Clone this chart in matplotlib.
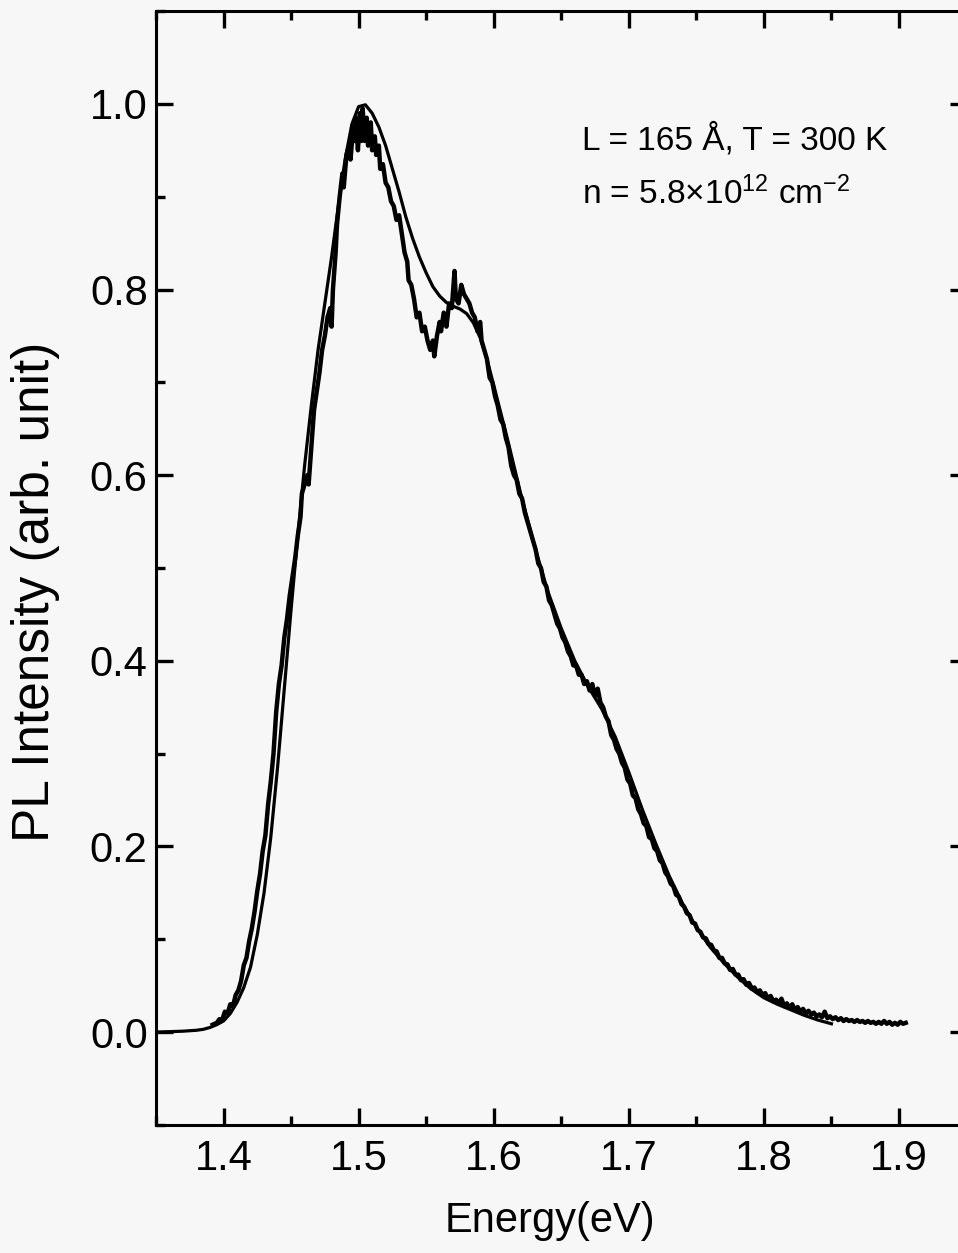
import numpy as np
import matplotlib.pyplot as plt
from matplotlib.ticker import MultipleLocator

plt.rcParams['font.family'] = ['Liberation Sans', 'DejaVu Sans']
plt.rcParams['mathtext.fontset'] = 'custom'
plt.rcParams['mathtext.rm'] = 'Liberation Sans'
plt.rcParams['mathtext.it'] = 'Liberation Sans'

# measured PL spectrum (noisy trace)
exp_energy = [1.392, 1.395, 1.397, 1.399, 1.401, 1.403, 1.405, 1.407, 1.409, 1.411,
              1.413, 1.415, 1.417, 1.419, 1.421, 1.423, 1.425, 1.427, 1.429, 1.431,
              1.433, 1.435, 1.437, 1.439, 1.441, 1.443, 1.445, 1.447, 1.449, 1.451,
              1.453, 1.455, 1.457, 1.458, 1.460, 1.462, 1.463, 1.465, 1.467, 1.469,
              1.471, 1.473, 1.475, 1.477, 1.479, 1.480, 1.481, 1.483, 1.484, 1.486,
              1.488, 1.489, 1.491, 1.493, 1.494, 1.496, 1.497, 1.498, 1.4995, 1.501,
              1.502, 1.503, 1.5045, 1.506, 1.507, 1.509, 1.510, 1.512, 1.513, 1.515,
              1.516, 1.518, 1.520, 1.522, 1.524, 1.526, 1.528, 1.530, 1.532, 1.534,
              1.536, 1.537, 1.539, 1.541, 1.543, 1.545, 1.547, 1.549, 1.551, 1.553,
              1.555, 1.556, 1.558, 1.560, 1.561, 1.563, 1.565, 1.567, 1.569, 1.571,
              1.572, 1.574, 1.576, 1.578, 1.580, 1.582, 1.584, 1.586, 1.588, 1.590,
              1.591, 1.593, 1.595, 1.597, 1.599, 1.601, 1.603, 1.605, 1.607, 1.609,
              1.611, 1.613, 1.615, 1.617, 1.619, 1.621, 1.623, 1.625, 1.627, 1.629,
              1.631, 1.633, 1.635, 1.637, 1.639, 1.641, 1.643, 1.645, 1.647, 1.649,
              1.651, 1.653, 1.655, 1.657, 1.659, 1.661, 1.663, 1.665, 1.667, 1.669,
              1.671, 1.673, 1.675, 1.677, 1.679, 1.681, 1.683, 1.685, 1.687, 1.689,
              1.691, 1.693, 1.695, 1.697, 1.699, 1.701, 1.703, 1.705, 1.707, 1.709,
              1.711, 1.713, 1.715, 1.717, 1.719, 1.721, 1.723, 1.725, 1.727, 1.729,
              1.731, 1.733, 1.735, 1.737, 1.739, 1.741, 1.743, 1.745, 1.747, 1.749,
              1.751, 1.753, 1.755, 1.757, 1.759, 1.761, 1.763, 1.765, 1.767, 1.769,
              1.771, 1.773, 1.775, 1.777, 1.779, 1.781, 1.783, 1.785, 1.787, 1.789,
              1.791, 1.793, 1.795, 1.797, 1.799, 1.801, 1.803, 1.805, 1.807, 1.809,
              1.811, 1.813, 1.815, 1.817, 1.819, 1.821, 1.823, 1.825, 1.827, 1.829,
              1.831, 1.833, 1.835, 1.837, 1.839, 1.841, 1.843, 1.845, 1.847, 1.849,
              1.851, 1.853, 1.855, 1.857, 1.859, 1.861, 1.863, 1.865, 1.867, 1.869,
              1.871, 1.873, 1.875, 1.877, 1.879, 1.881, 1.883, 1.885, 1.887, 1.889,
              1.891, 1.893, 1.895, 1.897, 1.899, 1.901, 1.903, 1.905]
exp_pl = [0.008, 0.010, 0.014, 0.013, 0.022, 0.020, 0.030, 0.028, 0.040, 0.045,
          0.055, 0.072, 0.080, 0.098, 0.112, 0.130, 0.152, 0.170, 0.195, 0.212,
          0.245, 0.270, 0.300, 0.345, 0.375, 0.395, 0.425, 0.445, 0.470, 0.490,
          0.510, 0.535, 0.555, 0.580, 0.590, 0.600, 0.590, 0.630, 0.670, 0.690,
          0.710, 0.735, 0.750, 0.770, 0.780, 0.760, 0.800, 0.840, 0.870, 0.900,
          0.925, 0.910, 0.945, 0.955, 0.940, 0.975, 0.960, 0.985, 0.950, 0.990,
          0.960, 0.995, 0.960, 0.985, 0.955, 0.980, 0.950, 0.965, 0.945, 0.955,
          0.930, 0.935, 0.915, 0.910, 0.895, 0.890, 0.875, 0.880, 0.860, 0.840,
          0.830, 0.810, 0.805, 0.790, 0.770, 0.775, 0.755, 0.760, 0.745, 0.735,
          0.745, 0.728, 0.750, 0.765, 0.755, 0.775, 0.760, 0.785, 0.780, 0.820,
          0.790, 0.785, 0.805, 0.795, 0.790, 0.785, 0.775, 0.770, 0.755, 0.765,
          0.745, 0.735, 0.725, 0.705, 0.700, 0.685, 0.675, 0.660, 0.655, 0.640,
          0.630, 0.610, 0.600, 0.595, 0.580, 0.575, 0.560, 0.550, 0.540, 0.530,
          0.520, 0.505, 0.500, 0.485, 0.480, 0.465, 0.460, 0.450, 0.440, 0.435,
          0.425, 0.420, 0.410, 0.405, 0.395, 0.395, 0.385, 0.385, 0.375, 0.378,
          0.368, 0.375, 0.362, 0.370, 0.355, 0.350, 0.340, 0.335, 0.320, 0.315,
          0.305, 0.300, 0.290, 0.285, 0.272, 0.268, 0.255, 0.252, 0.240, 0.235,
          0.225, 0.222, 0.210, 0.208, 0.198, 0.195, 0.185, 0.182, 0.172, 0.168,
          0.160, 0.157, 0.148, 0.146, 0.138, 0.135, 0.128, 0.126, 0.118, 0.117,
          0.110, 0.108, 0.102, 0.101, 0.095, 0.094, 0.088, 0.087, 0.080, 0.080,
          0.074, 0.073, 0.067, 0.068, 0.062, 0.062, 0.056, 0.057, 0.051, 0.053,
          0.047, 0.048, 0.043, 0.045, 0.040, 0.042, 0.036, 0.039, 0.033, 0.035,
          0.031, 0.036, 0.028, 0.031, 0.026, 0.030, 0.024, 0.027, 0.022, 0.025,
          0.020, 0.023, 0.019, 0.021, 0.017, 0.019, 0.016, 0.022, 0.015, 0.017,
          0.014, 0.016, 0.013, 0.015, 0.012, 0.014, 0.012, 0.013, 0.011, 0.013,
          0.011, 0.012, 0.010, 0.012, 0.010, 0.011, 0.009, 0.011, 0.009, 0.012,
          0.009, 0.011, 0.008, 0.010, 0.008, 0.011, 0.009, 0.010]

# calculated spectrum (smooth fit)
fit_energy = [1.35, 1.36, 1.37, 1.38, 1.385, 1.39, 1.395, 1.40, 1.405, 1.41,
              1.415, 1.42, 1.425, 1.43, 1.435, 1.44, 1.445, 1.45, 1.455, 1.46,
              1.465, 1.47, 1.475, 1.48, 1.485, 1.49, 1.495, 1.50, 1.505, 1.51,
              1.515, 1.52, 1.525, 1.53, 1.535, 1.54, 1.545, 1.55, 1.555, 1.56,
              1.565, 1.57, 1.575, 1.58, 1.585, 1.59, 1.595, 1.60, 1.61, 1.62,
              1.63, 1.64, 1.65, 1.66, 1.67, 1.68, 1.69, 1.70, 1.71, 1.72,
              1.73, 1.74, 1.75, 1.76, 1.77, 1.78, 1.79, 1.80, 1.81, 1.82,
              1.83, 1.84, 1.85]
fit_pl = [0.0, 0.0005, 0.001, 0.002, 0.003, 0.005, 0.008, 0.012, 0.020, 0.032,
          0.048, 0.070, 0.105, 0.150, 0.210, 0.285, 0.370, 0.455, 0.535, 0.610,
          0.675, 0.735, 0.785, 0.835, 0.890, 0.940, 0.978, 0.997, 0.999, 0.990,
          0.975, 0.955, 0.930, 0.905, 0.878, 0.855, 0.835, 0.818, 0.803, 0.793,
          0.786, 0.782, 0.779, 0.774, 0.764, 0.748, 0.725, 0.697, 0.640, 0.580,
          0.525, 0.475, 0.435, 0.400, 0.372, 0.348, 0.318, 0.280, 0.240, 0.203,
          0.168, 0.138, 0.113, 0.092, 0.075, 0.060, 0.047, 0.037, 0.030, 0.024,
          0.018, 0.013, 0.009]

bg = '#f7f7f7'
fig = plt.figure(figsize=(9.58, 12.53), dpi=100, facecolor=bg)
# right spine sits just outside the picture, as in the scan
ax = fig.add_axes([0.1628, 0.1022, 0.8461, 0.889], facecolor=bg)

ax.plot(exp_energy, exp_pl, color='black', lw=3.2)
ax.plot(fit_energy, fit_pl, color='black', lw=2.3)

ax.set_xlim(1.35, 1.95)
ax.set_ylim(-0.1, 1.1)
ax.xaxis.set_major_locator(MultipleLocator(0.1))
ax.xaxis.set_minor_locator(MultipleLocator(0.05))
ax.yaxis.set_major_locator(MultipleLocator(0.2))
ax.yaxis.set_minor_locator(MultipleLocator(0.1))
ax.set_xticks([1.4, 1.5, 1.6, 1.7, 1.8, 1.9])
ax.set_xticklabels(['1.4', '1.5', '1.6', '1.7', '1.8', '1.9'])
ax.set_yticks([0.0, 0.2, 0.4, 0.6, 0.8, 1.0])
ax.set_yticklabels(['0.0', '0.2', '0.4', '0.6', '0.8', '1.0'])

ax.tick_params(which='both', direction='in', top=True, right=True, width=2.4)
ax.tick_params(which='major', length=12.5, labelsize=30)
ax.tick_params(which='minor', length=6.5)
ax.tick_params(axis='x', pad=10)
ax.tick_params(axis='y', pad=6)
for s in ax.spines.values():
    s.set_linewidth(2.2)

ax.set_xlabel('Energy(eV)', fontsize=30)
ax.set_ylabel('PL Intensity (arb. unit)', fontsize=37)
ax.xaxis.set_label_coords(0.486, -0.068)
ax.yaxis.set_label_coords(-0.118, 0.4785)

ax.text(0.525, 0.876, 'L = 165 Å, T = 300 K', transform=ax.transAxes,
        fontsize=24, va='baseline')
ax.text(0.525, 0.827, 'n = 5.8×10$^{12}$ cm$^{-2}$', transform=ax.transAxes,
        fontsize=24, va='baseline')

fig.savefig('out.png', dpi=100, facecolor=bg)
